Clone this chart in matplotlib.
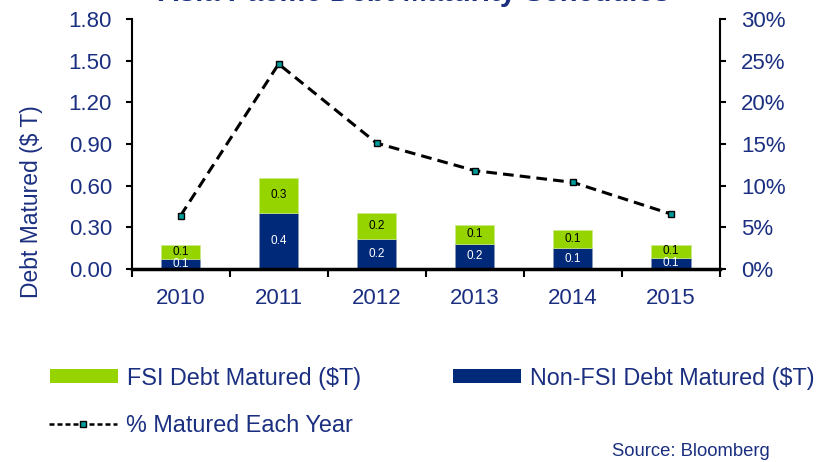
import matplotlib
matplotlib.use("Agg")
import matplotlib.pyplot as plt
from matplotlib.patches import Patch
from matplotlib.lines import Line2D
import numpy as np

plt.rcParams['font.family'] = ['Liberation Sans', 'DejaVu Sans']

years = ['2010', '2011', '2012', '2013', '2014', '2015']
non_fsi = [0.072, 0.405, 0.216, 0.182, 0.150, 0.081]
fsi = [0.100, 0.252, 0.186, 0.133, 0.128, 0.094]
pct_matured = [6.4, 24.6, 15.1, 11.8, 10.4, 6.6]

navy = '#00297A'
green = '#96D400'
text_c = '#1B2F80'

fig = plt.figure(figsize=(8.28, 4.62), dpi=100)
ax = fig.add_axes([131.5 / 828, 1 - 269 / 462, 588.5 / 828, 250 / 462])
x = np.arange(len(years))

b1 = ax.bar(x, non_fsi, width=0.4, color=navy, edgecolor='#8899BB', linewidth=0.5, zorder=2)
b2 = ax.bar(x, fsi, width=0.4, bottom=non_fsi, color=green, edgecolor='#CCE88A', linewidth=0.5, zorder=2)
ax.bar_label(b1, fmt='%.1f', label_type='center', color='white', fontsize=8.5)
ax.bar_label(b2, fmt='%.1f', label_type='center', color='black', fontsize=8.5)

ax.set_xlim(-0.5, 5.5)
ax.set_ylim(0, 1.8)
ax.set_yticks(np.arange(0, 1.81, 0.3))
ax.set_yticklabels([f'{v:.2f}' for v in np.arange(0, 1.81, 0.3)])
ax.set_xticks(x)
ax.set_xticklabels(years)
ax.set_xticks(np.arange(-0.5, 5.6, 1), minor=True)
ax.tick_params(axis='x', which='major', length=0, pad=14, labelsize=16, labelcolor=text_c)
ax.tick_params(axis='x', which='minor', length=6, width=1.5, direction='out', color='black')
ax.tick_params(axis='y', length=4, width=1.5, direction='out', pad=10, labelsize=16, labelcolor=text_c)
ax.spines['top'].set_visible(False)
ax.spines['right'].set_visible(False)
ax.spines['left'].set_linewidth(1.5)
ax.spines['bottom'].set_linewidth(2.5)

ax2 = ax.twinx()
ax2.plot(x, pct_matured, color='black', linestyle=(0, (3.5, 2)), linewidth=2.2,
         marker='s', markersize=4.5, markerfacecolor='#009A9A', markeredgecolor='black',
         markeredgewidth=1, zorder=3)
ax2.set_ylim(0, 30)
ax2.set_yticks(np.arange(0, 31, 5))
ax2.set_yticklabels([f'{v}%' for v in range(0, 31, 5)])
ax2.tick_params(axis='y', length=4, width=1.5, direction='out', pad=11, labelsize=16, labelcolor=text_c)
ax2.spines['top'].set_visible(False)
ax2.spines['left'].set_visible(False)
ax2.spines['bottom'].set_visible(False)
ax2.spines['right'].set_linewidth(1.5)

fig.text(32 / 828, 1 - 201.5 / 462, 'Debt Matured ($ T)', rotation=90, ha='center', va='center',
         fontsize=16.5, color=text_c)

fig.text(0.5, 1 - 1 / 462, 'Asia Pacific Debt Maturity Schedules', ha='center', va='baseline',
         fontsize=21, fontweight='bold', color=text_c)

h1 = Patch(facecolor=green)
h2 = Patch(facecolor=navy)
h3 = Line2D([0], [0], color='black', linestyle=(0, (2, 1.2)), linewidth=1.8, marker='s',
            markersize=4, markerfacecolor='#009A9A', markeredgecolor='black')
common = dict(frameon=False, fontsize=16.8, handlelength=2.9, labelcolor=text_c,
              handletextpad=0.38, borderaxespad=0, loc='center left')
fig.legend([h1], ['FSI Debt Matured ($T)'], bbox_to_anchor=(41 / 828, 1 - 378 / 462),
           handleheight=0.57, **common)
fig.legend([h2], ['Non-FSI Debt Matured ($T)'], bbox_to_anchor=(444 / 828, 1 - 378 / 462),
           handleheight=0.57, **common)
fig.legend([h3], ['% Matured Each Year'], bbox_to_anchor=(40 / 828, 1 - 426 / 462), **common)

fig.text(770 / 828, 1 - 452 / 462, 'Source: Bloomberg', ha='right', va='center', fontsize=13.3, color=text_c)

fig.savefig('out.png', dpi=100)
